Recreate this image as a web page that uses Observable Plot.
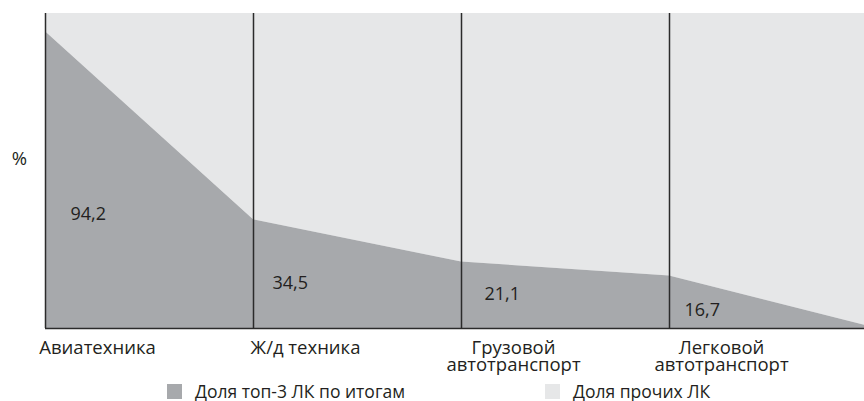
<!DOCTYPE html>
<html>
<head>
<meta charset="utf-8">
<script src="https://cdn.jsdelivr.net/npm/d3@7"></script>
<script src="https://cdn.jsdelivr.net/npm/@observablehq/plot@0.6"></script>
<style>
  body { margin: 0; background: #fff; }
  #chart { position: relative; width: 864px; }
</style>
</head>
<body>
<div id="chart"></div>
<script>
const categories = ["Авиатехника", "Ж/д техника", "Грузовой\nавтотранспорт", "Легковой\nавтотранспорт", ""];
const top3Share = [94.2, 34.5, 21.1, 16.7, 0];
const valueLabels = ["94,2", "34,5", "21,1", "16,7", ""];
const seriesNames = ["Доля топ-3 ЛК по итогам", "Доля прочих ЛК"];
const unitLabel = "%";

const DARK = "#a7a9ac", LIGHT = "#e6e7e8", INK = "#231f20", LINE = "#2b2b2b";
const FONT = "Open Sans";

const data = categories.map((c, i) => ({i, cat: c, v: top3Share[i], label: valueLabels[i]}));
const shown = data.filter(d => d.cat !== "");

// per-label pixel offsets (layout only)
const labelDx = [25, 19, 23, 15];
const labelDy = [-121, -52, -41, -25];

const valueMarks = shown.map((d, k) => Plot.text([d], {
  x: "i", y: 0, text: "label", textAnchor: "start", lineAnchor: "top",
  dx: labelDx[k], dy: labelDy[k], fill: INK, fontSize: 18
}));

const plot = Plot.plot({
  width: 864, height: 378,
  marginLeft: 45, marginRight: 0, marginTop: 13, marginBottom: 50,
  x: {domain: [0, 3.9375], axis: null},
  y: {domain: [0, 100], axis: null},
  style: {fontFamily: FONT, fontSize: "18px", color: INK, background: "white"},
  marks: [
    Plot.areaY(data, {x: "i", y1: "v", y2: 100, fill: LIGHT, clip: true}),
    Plot.areaY(data, {x: "i", y1: 0, y2: "v", fill: DARK, clip: true}),
    Plot.ruleX(shown, {x: "i", y1: 0, y2: 100, stroke: LINE, strokeWidth: 1.5}),
    Plot.ruleY([0], {stroke: LINE, strokeWidth: 1.5}),
    ...valueMarks,
    Plot.text(shown, {x: "i", y: 0, text: "cat", textAnchor: "middle", lineAnchor: "top",
      dx: 52, dy: 13, lineHeight: 0.93, fill: INK, fontSize: 18.5}),
    Plot.text([unitLabel], {frameAnchor: "left", dx: -26, dy: -12, textAnchor: "middle", fill: INK, fontSize: 18.5})
  ]
});
document.getElementById("chart").appendChild(plot);

// legend below the svg
const leg = d3.select("#chart").append("svg")
  .attr("width", 864).attr("height", 23).style("display", "block");
const items = [
  {name: seriesNames[0], color: DARK, x: 167},
  {name: seriesNames[1], color: LIGHT, x: 545}
];
items.forEach(it => {
  leg.append("rect").attr("x", it.x).attr("y", 6).attr("width", 15).attr("height", 15).attr("fill", it.color);
  leg.append("text").attr("x", it.x + 28).attr("y", 19.5)
    .attr("font-family", FONT).attr("font-size", 17.5).attr("fill", INK).text(it.name);
});
</script>
</body>
</html>
